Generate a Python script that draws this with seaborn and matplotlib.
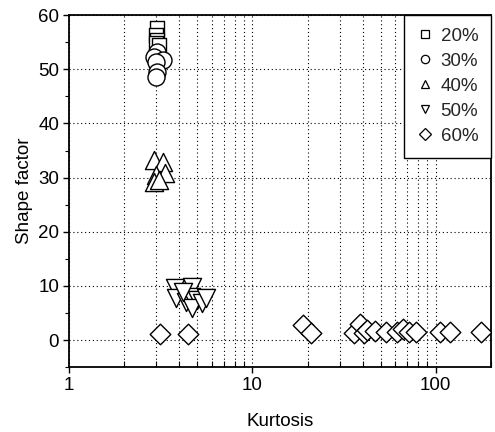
import matplotlib
matplotlib.use("Agg")
import matplotlib.pyplot as plt
import seaborn as sns
import pandas as pd
import numpy as np
from matplotlib.ticker import LogLocator, FixedLocator, NullFormatter, MultipleLocator
from matplotlib.lines import Line2D

# data
k20 = [3.04, 3.0, 3.04, 2.98, 3.12]
s20 = [57.6, 56.3, 55.4, 54.8, 54.4]
k30 = [3.04, 2.93, 3.25, 3.0, 3.04, 3.0]
s30 = [53.2, 52.2, 51.7, 51.3, 49.5, 48.5]
k40 = [2.93, 3.25, 3.0, 3.33, 2.93, 3.12]
s40 = [33.2, 32.9, 30.5, 30.8, 29.2, 29.5]
k50 = [3.77, 4.7, 3.86, 4.37, 4.66, 5.0, 4.7, 5.34, 5.6, 4.17]
s50 = [9.6, 9.8, 7.8, 7.0, 7.9, 7.4, 5.9, 6.8, 7.8, 8.9]
k60 = [3.16, 4.49, 18.9, 20.9, 35.8, 38.6, 40.6, 42.2, 46.6, 53.5, 61.4, 66, 71, 77.7, 106, 120, 176]
s60 = [1.1, 1.1, 2.8, 1.3, 1.3, 3.0, 1.3, 1.8, 1.7, 1.5, 1.5, 2.0, 1.5, 1.5, 1.5, 1.5, 1.5]
groups = ["20%", "30%", "40%", "50%", "60%"]

frames = []
for g, k, s in zip(groups, [k20, k30, k40, k50, k60], [s20, s30, s40, s50, s60]):
    frames.append(pd.DataFrame({"Kurtosis": k, "Shape factor": s, "group": g}))
df = pd.concat(frames, ignore_index=True)

sns.set_theme(style="white")
plt.rcParams["font.family"] = ["Liberation Sans", "DejaVu Sans"]

fig = plt.figure(figsize=(4.95, 4.32), dpi=100)
ax = fig.add_axes([0.139, 0.150, 0.853, 0.815])

markers = {"20%": "s", "30%": "o", "40%": "^", "50%": "v", "60%": "D"}
sizes = {"20%": 100, "30%": 150, "40%": 170, "50%": 170, "60%": 110}
for g in groups:
    sub = df[df["group"] == g]
    sns.scatterplot(data=sub, x="Kurtosis", y="Shape factor", marker=markers[g],
                    s=sizes[g], facecolor="white", edgecolor="black", linewidth=1.0,
                    ax=ax, legend=False, zorder=3)

ax.set_xscale("log")
ax.set_xlim(1, 200)
ax.set_ylim(-5, 60)
ax.yaxis.set_major_locator(FixedLocator([0, 10, 20, 30, 40, 50, 60]))
ax.yaxis.set_minor_locator(MultipleLocator(5))
ax.xaxis.set_major_locator(FixedLocator([1, 10, 100]))
ax.xaxis.set_major_formatter(matplotlib.ticker.FuncFormatter(lambda v, p: f"{v:g}"))
ax.xaxis.set_minor_locator(LogLocator(base=10, subs=np.arange(2, 10)))
ax.xaxis.set_minor_formatter(NullFormatter())

ax.grid(True, which="major", axis="both", linestyle=(0, (1, 2.5)), color="black", linewidth=0.8)
ax.grid(True, which="minor", axis="x", linestyle=(0, (1, 2.5)), color="black", linewidth=0.8)
ax.set_axisbelow(True)

for sp in ax.spines.values():
    sp.set_color("black")
    sp.set_linewidth(1.3)

ax.tick_params(axis="both", which="major", direction="out", length=4, width=1.0,
               labelsize=13.5, color="black", labelcolor="black", pad=3)
ax.tick_params(axis="x", which="minor", direction="in", length=4, width=0.8, color="black")
ax.tick_params(axis="y", which="minor", direction="out", length=3, width=0.8, color="black")
ax.tick_params(axis="x", which="both", bottom=True, top=False)
ax.tick_params(axis="y", which="both", left=True, right=False)

ax.set_xlabel("Kurtosis", fontsize=13.5, color="black", labelpad=14)
ax.set_ylabel("Shape factor", fontsize=13.5, color="black", labelpad=4)

handles = [Line2D([], [], linestyle="none", marker=markers[g], markersize=6,
                  markerfacecolor="white", markeredgecolor="black", markeredgewidth=0.9)
           for g in groups]
leg = ax.legend(handles, groups, loc="upper right", frameon=True, fancybox=False,
                edgecolor="black", fontsize=13.5, borderaxespad=0, handletextpad=0.45,
                labelspacing=0.42, borderpad=0.68, handlelength=0.8)
leg.get_frame().set_linewidth(1.0)
leg.get_frame().set_alpha(1)

fig.savefig("out.png", dpi=100)
